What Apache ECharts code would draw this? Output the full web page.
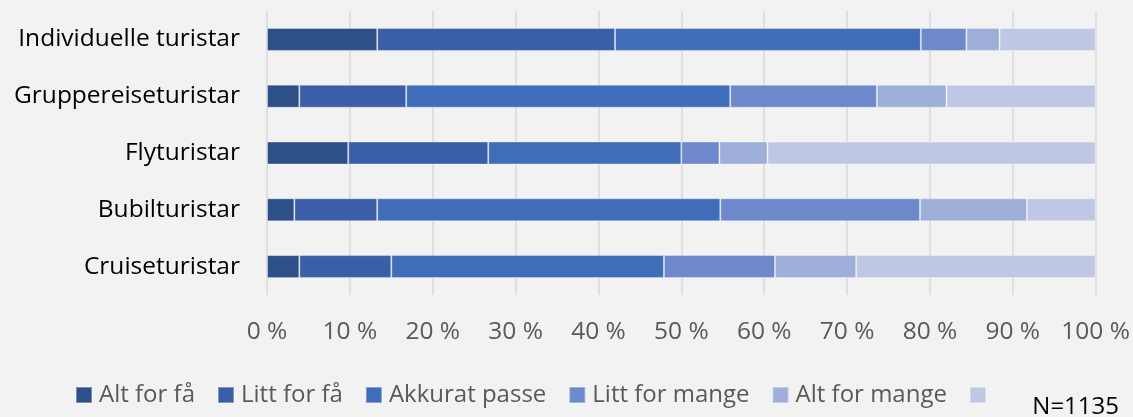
<!DOCTYPE html>
<html>
<head>
<meta charset="utf-8">
<script src="https://cdn.jsdelivr.net/npm/echarts@6/dist/echarts.min.js"></script>
<style>
    html, body { margin: 0; padding: 0; background: #F2F2F2; }
    #chart { width: 1133px; height: 417px; }
</style>
</head>
<body>
<div id="chart"></div>
<script>
var categories = ['Individuelle turistar', 'Gruppereiseturistar', 'Flyturistar', 'Bubilturistar', 'Cruiseturistar'];
var seriesNames = ['Alt for få', 'Litt for få', 'Akkurat passe', 'Litt for mange', 'Alt for mange', ' '];

// shares in percent, one array per answer, in category order
var altForFa      = [13.3, 3.9, 9.8, 3.3, 3.9];
var littForFa     = [28.7, 12.9, 16.9, 10.0, 11.1];
var akkuratPasse  = [36.9, 39.1, 23.3, 41.4, 32.9];
var littForMange  = [5.5, 17.7, 4.6, 24.1, 13.4];
var altForMange   = [4.0, 8.4, 5.8, 12.9, 9.8];
var ukjent        = [11.6, 18.0, 39.6, 8.3, 28.9];

var xTicks = [0, 10, 20, 30, 40, 50, 60, 70, 80, 90, 100];

var colors = ['#2E5088', '#3A5FA8', '#3F6DBA', '#6D88CB', '#9DAED9', '#BEC8E4'];
var values = [altForFa, littForFa, akkuratPasse, littForMange, altForMange, ukjent];

var chart = echarts.init(document.getElementById('chart'));

var series = values.map(function (data, i) {
    return {
        name: seriesNames[i],
        type: 'bar',
        stack: 'total',
        barWidth: 23,
        data: data,
        itemStyle: {
            color: colors[i],
            borderColor: 'rgba(255,255,255,0.35)',
            borderWidth: 1
        }
    };
});

var option = {
    backgroundColor: '#F2F2F2',
    animation: false,
    color: colors,
    textStyle: { fontFamily: 'Open Sans' },
    grid: {
        left: 267,
        right: 37,
        top: 11,
        bottom: 122
    },
    xAxis: {
        type: 'value',
        min: xTicks[0],
        max: xTicks[xTicks.length - 1],
        interval: 10,
        axisLine: { show: false },
        axisTick: { show: false },
        splitLine: { lineStyle: { color: '#D9D9D9', width: 1.5 } },
        axisLabel: {
            color: '#595959',
            fontSize: 24.5,
            margin: 25,
            formatter: function (v) { return v + ' %'; }
        }
    },
    yAxis: {
        type: 'category',
        inverse: true,
        data: categories,
        axisLine: { show: false },
        axisTick: { show: false },
        axisLabel: {
            color: '#000',
            fontSize: 24.5,
            margin: 27
        }
    },
    legend: {
        data: seriesNames,
        left: 70,
        top: 378,
        itemWidth: 16,
        itemHeight: 16,
        itemGap: 22,
        icon: 'rect',
        textStyle: { color: '#595959', fontSize: 24, padding: [0, 0, 0, 2] }
    },
    graphic: [{
        type: 'text',
        right: 14,
        top: 395,
        style: { text: 'N=1135', fontSize: 24, fill: '#000', fontFamily: 'Open Sans' }
    }],
    series: series
};

chart.setOption(option);
</script>
</body>
</html>
